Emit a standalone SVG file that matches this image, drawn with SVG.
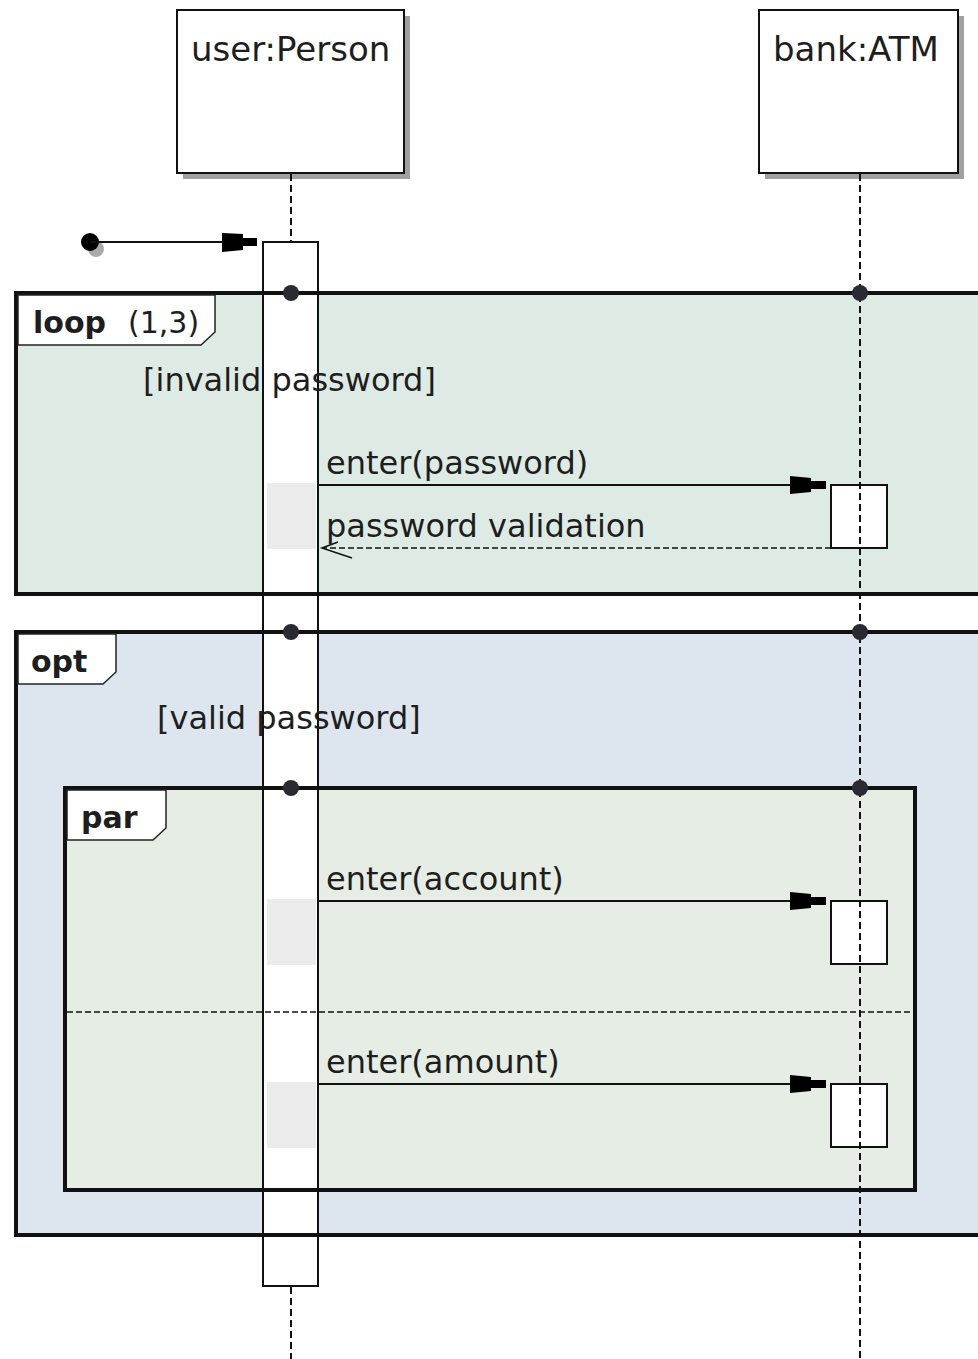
<svg xmlns="http://www.w3.org/2000/svg" width="978" height="1359" viewBox="0 0 978 1359">
<style>
text{font-family:"DejaVu Sans","Liberation Sans",sans-serif;fill:#1e1e1e}
.lbl{font-size:32px}
.hdr{font-size:34px}
.kw{font-size:30px;font-weight:bold}
.frame{fill:none;stroke:#111;stroke-width:4}
.tab{fill:#fff;stroke:#222;stroke-width:1.5}
.life{stroke:#111;stroke-width:2;stroke-dasharray:7 4;fill:none}
.act{fill:#fff;stroke:#111;stroke-width:2}
.shade{fill:#ebebeb}
.msg{stroke:#111;stroke-width:2;fill:none}
.ret{stroke:#111;stroke-width:1.5;stroke-dasharray:6 3;fill:none}
.dot{fill:#2a2a33}
.head{fill:#000}
</style>
<rect width="978" height="1359" fill="#fff"/>

<!-- frame fills -->
<g id="loop-fill"><rect x="16" y="293" width="980" height="301" fill="#deebe4"/></g>
<g id="opt-fill"><rect x="16" y="632" width="980" height="603" fill="#dde6ee"/></g>
<g id="par-fill"><rect x="65" y="788" width="850" height="402" fill="#e6ede5"/></g>

<!-- lifeline heads -->
<g id="user">
  <rect x="183" y="16" width="227" height="163" fill="#a0a0a0"/>
  <rect x="177" y="10" width="227" height="163" fill="#fff" stroke="#111" stroke-width="2"/>
  <text class="hdr" x="191" y="61">user:Person</text>
</g>
<g id="atm">
  <rect x="765" y="16" width="199" height="163" fill="#a0a0a0"/>
  <rect x="759" y="10" width="199" height="163" fill="#fff" stroke="#111" stroke-width="2"/>
  <text class="hdr" x="773" y="61">bank:ATM</text>
</g>

<!-- user activation -->
<g id="user-activation">
  <rect class="act" x="263" y="242" width="55" height="1044"/>
  <rect class="shade" x="267" y="483" width="49" height="66"/>
  <rect class="shade" x="267" y="899" width="49" height="66"/>
  <rect class="shade" x="267" y="1082" width="49" height="66"/>
</g>

<!-- ATM activations -->
<g id="atm-activations">
  <rect class="act" x="831" y="485" width="56" height="63"/>
  <rect class="act" x="831" y="901" width="56" height="63"/>
  <rect class="act" x="831" y="1084" width="56" height="63"/>
</g>

<!-- lifelines -->
<g id="lifelines">
  <line class="life" x1="291" y1="174" x2="291" y2="242"/>
  <line class="life" x1="291" y1="1287" x2="291" y2="1359"/>
  <line class="life" x1="860" y1="174" x2="860" y2="1359"/>
</g>

<!-- frames -->
<g id="loop">
  <rect class="frame" x="16" y="293" width="985" height="301"/>
  <path class="tab" d="M18,295 H215 V332 L201,345 H18 Z"/>
  <text class="kw" x="33" y="333">loop</text>
  <text class="lbl" x="128" y="333" style="font-size:30px">(1,3)</text>
  <text class="lbl" x="143" y="391">[invalid password]</text>
</g>
<g id="opt">
  <rect class="frame" x="16" y="632" width="985" height="603"/>
  <path class="tab" d="M18,634 H116 V672 L103,684 H18 Z"/>
  <text class="kw" x="31" y="672">opt</text>
  <text class="lbl" x="157" y="729">[valid password]</text>
</g>
<g id="par">
  <rect class="frame" x="65" y="788" width="850" height="402"/>
  <path class="tab" d="M67,790 H166 V828 L153,840 H67 Z"/>
  <text class="kw" x="81" y="828">par</text>
  <line x1="67" y1="1012" x2="913" y2="1012" stroke="#111" stroke-width="1.5" stroke-dasharray="6 3"/>
</g>

<!-- dots on frames -->
<g id="frame-dots">
  <circle class="dot" cx="291" cy="293" r="8"/>
  <circle class="dot" cx="860" cy="293" r="8"/>
  <circle class="dot" cx="291" cy="632" r="8"/>
  <circle class="dot" cx="860" cy="632" r="8"/>
  <circle class="dot" cx="291" cy="788" r="8"/>
  <circle class="dot" cx="860" cy="788" r="8"/>
</g>

<!-- connectors -->
<g id="connectors">
  <g id="start">
    <circle cx="96" cy="249" r="8" fill="#aaa"/>
    <circle cx="90" cy="242" r="9" fill="#000"/>
    <line class="msg" x1="90" y1="242" x2="256" y2="242"/>
    <path class="head" d="M222,233 L243,234 V238 L257,238 V246 L243,246 V250 L222,252 Z"/>
  </g>
  <g id="m-password">
    <line class="msg" x1="318" y1="485" x2="826" y2="485"/>
    <path class="head" d="M790,476 L811,478 V481 L826,481 V489 L811,489 V492 L790,494 Z"/>
    <text class="lbl" x="326" y="474">enter(password)</text>
  </g>
  <g id="m-validation">
    <line class="ret" x1="831" y1="548" x2="322" y2="548"/>
    <path d="M338,542 L322,548 L352,558" fill="none" stroke="#111" stroke-width="1.5"/>
    <text class="lbl" x="326" y="537">password validation</text>
  </g>
  <g id="m-account">
    <line class="msg" x1="318" y1="901" x2="826" y2="901"/>
    <path class="head" d="M790,892 L811,894 V897 L826,897 V905 L811,905 V908 L790,910 Z"/>
    <text class="lbl" x="326" y="890">enter(account)</text>
  </g>
  <g id="m-amount">
    <line class="msg" x1="318" y1="1084" x2="826" y2="1084"/>
    <path class="head" d="M790,1075 L811,1077 V1080 L826,1080 V1088 L811,1088 V1091 L790,1093 Z"/>
    <text class="lbl" x="326" y="1073">enter(amount)</text>
  </g>
</g>
</svg>
